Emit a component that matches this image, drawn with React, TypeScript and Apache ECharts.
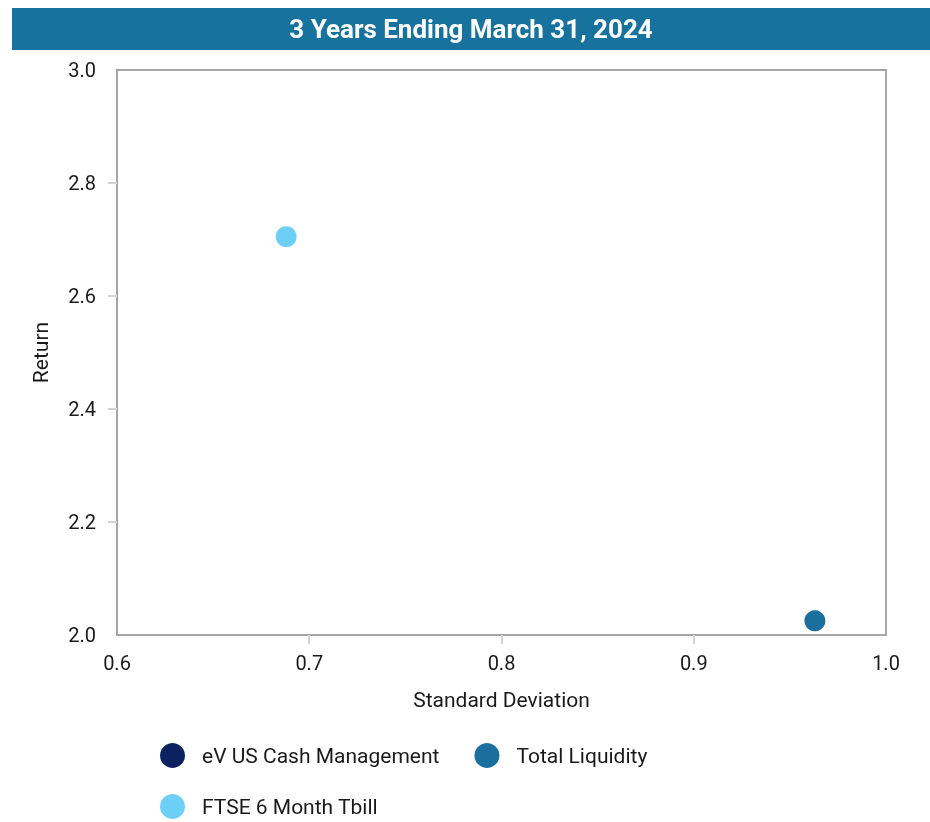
import React, { useEffect, useRef } from "react";
import * as echarts from "echarts";

const titleText = "3 Years Ending March 31, 2024";
const seriesNames = ["eV US Cash Management", "Total Liquidity", "FTSE 6 Month Tbill"];
const seriesColors = ["#0c2260", "#1a6f9e", "#6ecff6"];
const evCashMgmt: number[][] = [];
const totalLiquidity: number[][] = [[0.963, 2.025]];
const ftseTbill: number[][] = [[0.688, 2.705]];
const xTicks = [0.6, 0.7, 0.8, 0.9, 1.0];
const yTicks = [2.0, 2.2, 2.4, 2.6, 2.8, 3.0];

export default function App() {
  const ref = useRef<HTMLDivElement>(null);
  useEffect(() => {
    if (!ref.current) return;
    const chart = echarts.init(ref.current, undefined, { renderer: "svg" });
    const font = "Roboto";
    const legendText = { fontFamily: font, fontSize: 21, color: "#1a1a1a", padding: [0, 0, 0, 12] };
    chart.setOption({
      animation: false,
      textStyle: { fontFamily: font },
      graphic: [
        {
          type: "rect",
          shape: { x: 12, y: 8, width: 918, height: 42 },
          style: { fill: "#17729d" },
          silent: true,
        },
        {
          type: "text",
          x: 471,
          y: 29,
          style: {
            text: titleText,
            fill: "#ffffff",
            font: `bold 26px ${font}`,
            textAlign: "center",
            textVerticalAlign: "middle",
          },
          silent: true,
        },
      ],
      grid: { left: 117, right: 44, top: 70, bottom: 187, show: true, borderColor: "#a6a6a6", borderWidth: 2, backgroundColor: "transparent" },
      xAxis: {
        type: "value",
        min: xTicks[0],
        max: xTicks[xTicks.length - 1],
        interval: 0.1,
        name: "Standard Deviation",
        nameLocation: "middle",
        nameGap: 54,
        nameTextStyle: { fontFamily: font, fontSize: 21, color: "#1a1a1a" },
        axisLine: { show: true, lineStyle: { color: "#a6a6a6", width: 2 } },
        axisTick: { show: true, length: 9, lineStyle: { color: "#d4d4d4", width: 2 }, customValues: xTicks.slice(1, -1) },
        axisLabel: { margin: 18, fontFamily: font, fontSize: 20, color: "#1a1a1a", formatter: (v: number) => v.toFixed(1), customValues: xTicks },
        splitLine: { show: false },
      },
      yAxis: {
        type: "value",
        min: yTicks[0],
        max: yTicks[yTicks.length - 1],
        interval: 0.2,
        name: "Return",
        nameLocation: "middle",
        nameGap: 66,
        nameTextStyle: { fontFamily: font, fontSize: 21, color: "#1a1a1a" },
        axisLine: { show: true, lineStyle: { color: "#a6a6a6", width: 2 } },
        axisTick: { show: true, length: 9, lineStyle: { color: "#d4d4d4", width: 2 }, customValues: yTicks.slice(1, -1) },
        axisLabel: { margin: 21, fontFamily: font, fontSize: 20, color: "#1a1a1a", formatter: (v: number) => v.toFixed(1), customValues: yTicks },
        splitLine: { show: false },
      },
      legend: [
        {
          data: [seriesNames[0], seriesNames[1]],
          left: 155,
          top: 738,
          orient: "horizontal",
          icon: "circle",
          itemWidth: 25,
          itemHeight: 25,
          itemGap: 35,
          textStyle: legendText,
          selectedMode: false,
        },
        {
          data: [seriesNames[2]],
          left: 155,
          top: 789,
          orient: "horizontal",
          icon: "circle",
          itemWidth: 25,
          itemHeight: 25,
          itemGap: 35,
          textStyle: legendText,
          selectedMode: false,
        },
      ],
      series: [
        { name: seriesNames[0], type: "scatter", data: evCashMgmt, symbolSize: 21, itemStyle: { color: seriesColors[0], opacity: 1 } },
        { name: seriesNames[1], type: "scatter", data: totalLiquidity, symbolSize: 21, itemStyle: { color: seriesColors[1], opacity: 1 } },
        { name: seriesNames[2], type: "scatter", data: ftseTbill, symbolSize: 21, itemStyle: { color: seriesColors[2], opacity: 1 } },
      ],
    });
    return () => chart.dispose();
  }, []);
  return <div ref={ref} style={{ position: "fixed", left: 0, top: 0, width: 930, height: 822 }} />;
}
